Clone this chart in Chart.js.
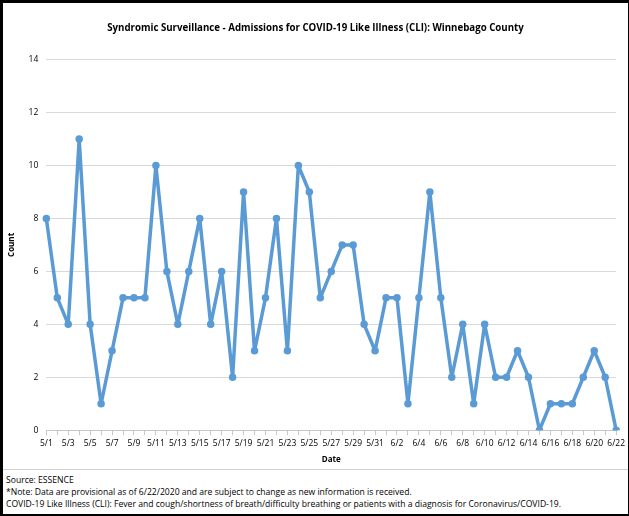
<!DOCTYPE html>
<html>
<head>
<meta charset="utf-8">
<script src="https://cdn.jsdelivr.net/npm/chart.js@4"></script>
<style>
  body { margin: 0; background: #fff; }
  #marco {
    position: absolute; left: 0; top: 0; width: 629px; height: 516px;
    box-sizing: border-box; border-left: 3px solid #000; border-top: 3px solid #000;
    border-bottom: 2px solid #000; border-right: 1px solid #000;
  }
  #caja-grafico { position: relative; width: 625px; height: 466px; }
  #notas {
    border-top: 1px solid #d0d0d0; padding: 4px 0 0 3px;
    font-family: "Open Sans", sans-serif; font-size: 8.6px; line-height: 12px; color: #000;
  }
</style>
</head>
<body>
<div id="marco">
  <div id="caja-grafico"><canvas id="grafica-cli"></canvas></div>
  <div id="notas">
    Source: ESSENCE<br>
    *Note: Data are provisional as of 6/22/2020 and are subject to change as new information is received.<br>
    COVID-19 Like Illness (CLI): Fever and cough/shortness of breath/difficulty breathing or patients with a diagnosis for Coronavirus/COVID-19.
  </div>
</div>
<script>
const fechas = [
    "5/1", "5/2", "5/3", "5/4", "5/5", "5/6", "5/7", "5/8", "5/9", "5/10",
    "5/11", "5/12", "5/13", "5/14", "5/15", "5/16", "5/17", "5/18", "5/19", "5/20",
    "5/21", "5/22", "5/23", "5/24", "5/25", "5/26", "5/27", "5/28", "5/29", "5/30", "5/31",
    "6/1", "6/2", "6/3", "6/4", "6/5", "6/6", "6/7", "6/8", "6/9", "6/10",
    "6/11", "6/12", "6/13", "6/14", "6/15", "6/16", "6/17", "6/18", "6/19", "6/20",
    "6/21", "6/22"
];
const admisiones = [
    8, 5, 4, 11, 4, 1, 3, 5, 5, 5,
    10, 6, 4, 6, 8, 4, 6, 2, 9, 3,
    5, 8, 3, 10, 9, 5, 6, 7, 7, 4, 3,
    5, 5, 1, 5, 9, 5, 2, 4, 1, 4,
    2, 2, 3, 2, 0, 1, 1, 1, 2, 3,
    2, 0
];
const ticksY = [0, 2, 4, 6, 8, 10, 12, 14];

const fuente = "'Open Sans', sans-serif";

let contexto = document.getElementById("grafica-cli").getContext("2d");
let grafico = new Chart(contexto, {
    type: "line",
    data: {
        labels: fechas,
        datasets: [{
            label: "Count",
            data: admisiones,
            borderColor: "#5b9bd5",
            backgroundColor: "#5b9bd5",
            borderWidth: 3.5,
            borderJoinStyle: "round",
            borderCapStyle: "round",
            pointRadius: 2,
            tension: 0,
        }],
    },
    options: {
        responsive: true,
        maintainAspectRatio: false,
        animation: false,
        layout: { padding: { left: 0, right: 0, top: 6, bottom: 0 } },
        plugins: {
            legend: { display: false },
            tooltip: { enabled: false },
            title: {
                display: true,
                text: "Syndromic Surveillance - Admissions for COVID-19 Like Illness (CLI): Winnebago County",
                color: "#000",
                font: { family: fuente, size: 9.7, weight: "bold" },
                padding: { top: 13, bottom: 26 },
            },
        },
        scales: {
            x: {
                offset: false,
                title: {
                    display: true, text: "Date", color: "#000",
                    font: { family: fuente, size: 8, weight: "bold" },
                    padding: { top: 4 },
                },
                grid: { drawOnChartArea: false, color: "#c8c8c8", tickLength: 5 },
                border: { color: "#c8c8c8" },
                ticks: {
                    autoSkip: false, maxRotation: 0, color: "#000",
                    font: { family: fuente, size: 8.5 },
                    callback: (valor, i) => (i % 2 === 0 ? fechas[i] : ""),
                },
            },
            y: {
                min: 0, max: 14,
                afterBuildTicks: (eje) => { eje.ticks = ticksY.map((v) => ({ value: v })); },
                title: {
                    display: true, text: "Count", color: "#000",
                    font: { family: fuente, size: 8, weight: "bold" },
                    padding: { bottom: 4 },
                },
                grid: { color: "#d9d9d9", drawTicks: false },
                border: { display: false },
                ticks: { color: "#000", padding: 8, font: { family: fuente, size: 8.5 } },
            },
        },
    },
});
</script>
</body>
</html>
